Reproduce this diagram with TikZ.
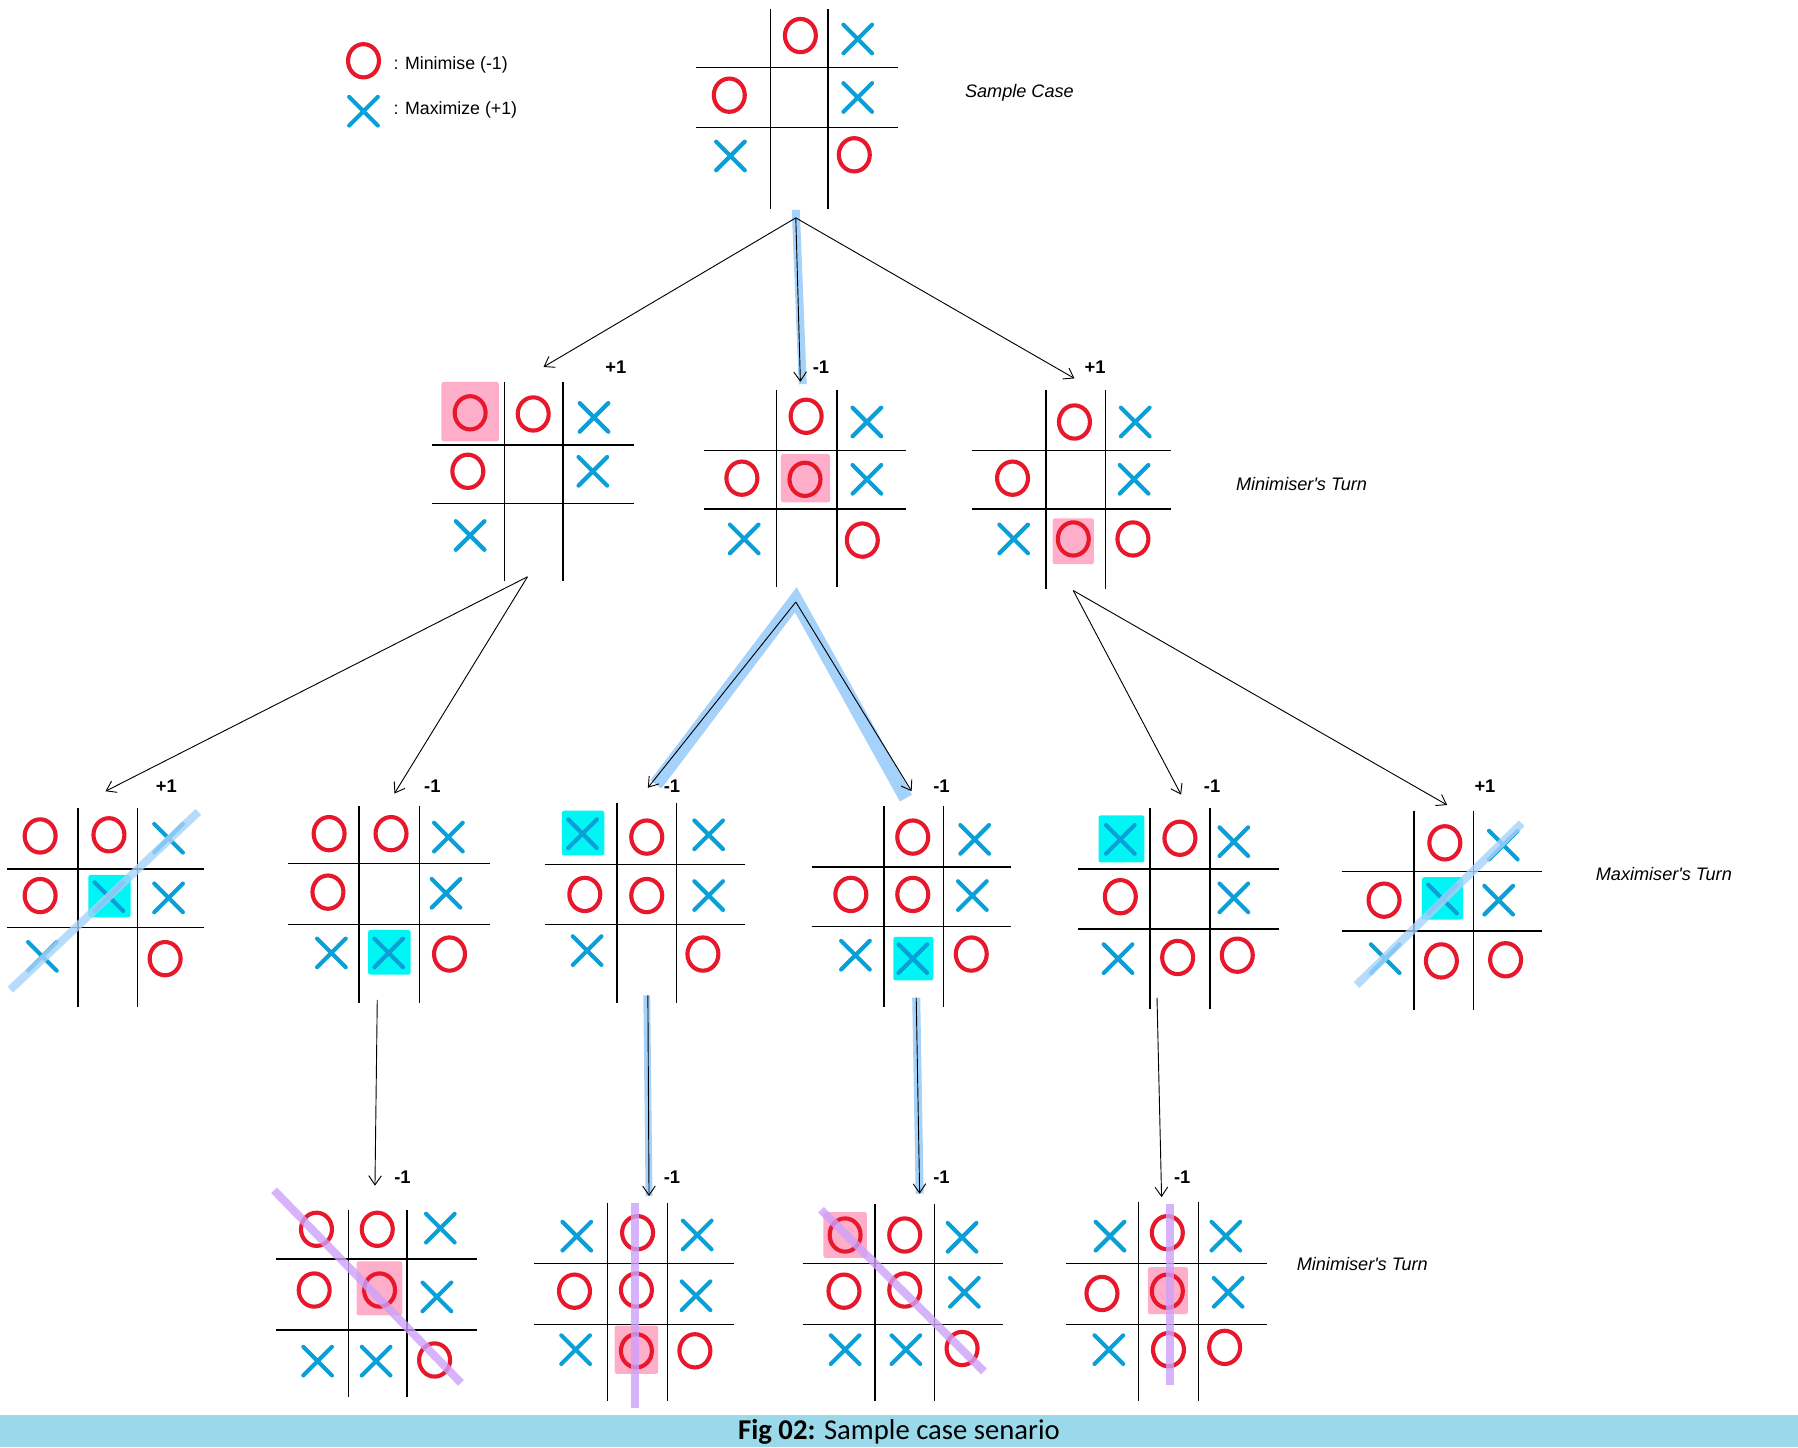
\documentclass[tikz,border=0pt]{standalone}
\usepackage{fontspec}
\setmainfont{Liberation Sans}
\newfontfamily\turnfont{Liberation Sans}[Ligatures=TeXOff]
\newfontfamily\capfont{Carlito}
\usetikzlibrary{arrows.meta}
\definecolor{ored}{RGB}{232,24,44}
\definecolor{xblue}{RGB}{10,160,215}
\definecolor{hpink}{RGB}{255,174,201}
\definecolor{hcyan}{RGB}{0,245,245}
\definecolor{bandblue}{RGB}{165,210,250}
\definecolor{wpurple}{RGB}{205,160,250}
\definecolor{capbg}{RGB}{153,217,234}
\tikzset{
 gridline/.style={line width=1.3pt, black},
 omark/.style={draw=ored, line width=3.6pt},
 xmark/.style={draw=xblue, line width=3.6pt, line cap=round},
 conn/.style={line width=0.8pt, -{Straight Barb[length=8pt,width=11pt]}},
 bandline/.style={bandblue, line width=#1},
 winline/.style={line width=#1, opacity=0.8},
 score/.style={font=\bfseries\fontsize{16}{16}\selectfont, inner sep=0pt},
 turn/.style={font=\turnfont\itshape\fontsize{15.8}{16}\selectfont, inner sep=0pt},
 legend/.style={font=\fontsize{15.5}{16}\selectfont, inner sep=0pt, anchor=west},
}
\newcommand\pO[2]{\draw[omark] (#1,#2) ellipse [x radius=13.5, y radius=14.5];}
\newcommand\pX[2]{\draw[xmark] (#1-12.5,#2-12.5) -- (#1+12.5,#2+12.5) (#1-12.5,#2+12.5) -- (#1+12.5,#2-12.5);}
\newcommand\hlbox[5]{\fill[#1, rounded corners=2pt] (#2,#3) rectangle (#4,#5);}
\newcommand\tttgrid[8]{\draw[gridline] (#1,#7) -- (#1,#8) (#2,#7) -- (#2,#8) (#5,#3) -- (#6,#3) (#5,#4) -- (#6,#4);}
\begin{document}
\begin{tikzpicture}[x=1pt,y=-1pt]
\useasboundingbox (0,0) rectangle (1568,1262);
\fill[white] (0,0) rectangle (1568,1262);
% caption bar
\fill[capbg] (0,1234) rectangle (1568,1262);
\node[inner sep=0pt] (caption) at (784,1249) {\capfont\fontsize{25}{25}\selectfont\textbf{Fig 02:} Sample case senario};

% legend
\pO{317}{53}
\node[legend] (legO) at (343,57) {: Minimise (-1)};
\pX{317}{97}
\node[legend] (legX) at (343,96) {: Maximize (+1)};

% turn labels
\node[turn] (lblsample) at (889,81) {Sample Case};
\node[turn] (lblmin1) at (1135,422) {Minimiser's Turn};
\node[turn] (lblmax) at (1451,762) {Maximiser's Turn};
\node[turn] (lblmin2) at (1188,1102) {Minimiser's Turn};

% highlight bands behind arrows
\draw[bandline=7] (694,183) -- (700,335);
\draw[bandline=12, line join=miter] (572,684) -- (694,523) -- (790,696);
\draw[bandline=6] (564,868) -- (566,1043);
\draw[bandline=7] (799,870) -- (802,1041);

% ---------- Top board ----------
\tttgrid{672}{722}{59}{111}{607}{783}{8}{182}
\pO{698}{31} \pX{748}{34}
\pO{636}{83} \pX{748}{85}
\pX{637}{136} \pO{745}{135}

% ---------- Level 1 ----------
% B1
\hlbox{hpink}{385}{333}{435}{385}
\tttgrid{440}{491}{388}{439}{377}{553}{333}{507}
\pO{410}{360} \pO{465}{361} \pX{518}{364}
\pO{408}{411} \pX{517}{411}
\pX{410}{467}
\node[score] (sB1) at (537,320) {+1};
% B2
\hlbox{hpink}{681}{396}{724}{438}
\tttgrid{677}{730}{393}{444}{614}{790}{340}{512}
\pO{703}{363} \pX{756}{368}
\pO{647}{417} \pO{702}{418} \pX{756}{418}
\pX{649}{470} \pO{752}{471}
\node[score] (sB2) at (716,320) {-1};
% B3
\hlbox{hpink}{918}{452}{954}{492}
\tttgrid{912}{964}{393}{444}{848}{1021}{340}{514}
\pO{937}{368} \pX{990}{368}
\pO{883}{417} \pX{989}{418}
\pX{884}{470} \pO{936}{470} \pO{988}{470}
\node[score] (sB3) at (955,320) {+1};

% ---------- Level 2 ----------
% C1
\hlbox{hcyan}{77}{763}{114}{800}
\tttgrid{68}{120}{758}{809}{6}{178}{705}{878}
\pO{35}{729} \pO{95}{728} \pX{147}{731}
\pO{35}{781} \pX{95}{782} \pX{147}{783}
\pX{37}{834} \pO{144}{836}
\draw[winline=7, bandblue] (9,863) -- (173,708);
\node[score] (sC1) at (145,686) {+1};
% C2
\hlbox{hcyan}{321}{811}{358}{850}
\tttgrid{313}{366}{753}{806}{251}{427}{703}{875}
\pO{287}{727} \pO{341}{727} \pX{391}{730}
\pO{286}{778} \pX{389}{779}
\pX{289}{831} \pX{339}{831} \pO{392}{832}
\node[score] (sC2) at (377,686) {-1};
% C3
\hlbox{hcyan}{490}{707}{527}{746}
\tttgrid{538}{590}{754}{806}{475}{650}{700}{875}
\pX{508}{727} \pO{564}{730} \pX{618}{728}
\pO{510}{780} \pO{564}{781} \pX{618}{781}
\pX{512}{829} \pO{613}{832}
\node[score] (sC3) at (586,686) {-1};
% C4
\hlbox{hcyan}{779}{817}{814}{855}
\tttgrid{771}{823}{756}{808}{708}{882}{703}{878}
\pO{796}{730} \pX{850}{732}
\pO{742}{780} \pO{796}{780} \pX{848}{781}
\pX{746}{833} \pX{796}{836} \pO{847}{832}
\node[score] (sC4) at (821,686) {-1};
% C5
\hlbox{hcyan}{958}{711}{998}{752}
\tttgrid{1003}{1055}{758}{810}{940}{1115}{705}{880}
\pX{977}{732} \pO{1029}{731} \pX{1076}{734}
\pO{977}{782} \pX{1076}{783}
\pX{975}{836} \pO{1027}{835} \pO{1079}{833}
\node[score] (sC5) at (1057,686) {-1};
% C6
\hlbox{hcyan}{1240}{765}{1276}{802}
\tttgrid{1233}{1285}{760}{812}{1170}{1345}{707}{881}
\pO{1260}{735} \pX{1311}{737}
\pO{1207}{785} \pX{1258}{784} \pX{1307}{785}
\pX{1208}{836} \pO{1257}{838} \pO{1313}{837}
\draw[winline=7, bandblue] (1183,859) -- (1327,718);
\node[score] (sC6) at (1295,686) {+1};

% ---------- Level 3 ----------
% D1
\hlbox{hpink}{311}{1100}{351}{1147}
\tttgrid{304}{355}{1098}{1160}{241}{416}{1055}{1218}
\pO{276}{1072} \pO{329}{1072} \pX{384}{1071}
\pO{274}{1125} \pO{331}{1125} \pX{381}{1131}
\pX{277}{1187} \pX{328}{1187} \pO{379}{1186}
\draw[winline=7, wpurple] (239,1038) -- (402,1206);
\node[score] (sD1) at (351,1027) {-1};
% D2
\hlbox{hpink}{536}{1156}{574}{1198}
\tttgrid{530}{582}{1102}{1155}{466}{640}{1049}{1222}
\pX{503}{1078} \pO{556}{1075} \pX{608}{1077}
\pO{501}{1126} \pO{555}{1125} \pX{607}{1130}
\pX{502}{1177} \pO{555}{1178} \pO{606}{1178}
\draw[winline=7, wpurple] (554,1049) -- (554,1228);
\node[score] (sD2) at (586,1027) {-1};
% D3
\hlbox{hpink}{718}{1057}{756}{1097}
\tttgrid{763}{815}{1102}{1155}{700}{875}{1050}{1222}
\pO{737}{1077} \pO{789}{1077} \pX{839}{1079}
\pO{736}{1126} \pO{789}{1125} \pX{841}{1127}
\pX{737}{1177} \pX{790}{1177} \pO{839}{1176}
\draw[winline=7, wpurple] (716,1055) -- (858,1196);
\node[score] (sD3) at (821,1027) {-1};
% D4
\hlbox{hpink}{1001}{1105}{1036}{1146}
\tttgrid{993}{1045}{1102}{1155}{930}{1105}{1048}{1222}
\pX{968}{1078} \pO{1018}{1075} \pX{1069}{1078}
\pO{961}{1128} \pO{1018}{1126} \pX{1071}{1127}
\pX{967}{1177} \pO{1019}{1177} \pO{1068}{1175}
\draw[winline=7, wpurple] (1020,1050) -- (1020,1208);
\node[score] (sD4) at (1031,1027) {-1};

% ---------- connector coordinates ----------
\coordinate (T-out) at (694,190);
\coordinate (B1-in) at (474,320);
\coordinate (B2-in) at (698,333);
\coordinate (B3-in) at (937,330);
\coordinate (B1-out) at (460,503);
\coordinate (B2-out) at (694,525);
\coordinate (B3-out) at (936,515);
\coordinate (C1-in) at (92,690);
\coordinate (C2-in) at (344,692);
\coordinate (C3-in) at (565,687);
\coordinate (C4-in) at (795,690);
\coordinate (C5-in) at (1030,693);
\coordinate (C6-in) at (1262,702);
\coordinate (C2-out) at (329,872);
\coordinate (C3-out) at (565,868);
\coordinate (C4-out) at (799,870);
\coordinate (C5-out) at (1009,870);
\coordinate (D1-in) at (327,1034);
\coordinate (D2-in) at (566,1043);
\coordinate (D3-in) at (802,1041);
\coordinate (D4-in) at (1013,1044);

\draw[conn] (T-out) -- (B1-in);
\draw[conn] (T-out) -- (B2-in);
\draw[conn] (T-out) -- (B3-in);
\draw[conn] (B1-out) -- (C1-in);
\draw[conn] (B1-out) -- (C2-in);
\draw[conn] (B2-out) -- (C3-in);
\draw[conn] (B2-out) -- (C4-in);
\draw[conn] (B3-out) -- (C5-in);
\draw[conn] (B3-out) -- (C6-in);
\draw[conn] (C2-out) -- (D1-in);
\draw[conn] (C3-out) -- (D2-in);
\draw[conn] (C4-out) -- (D3-in);
\draw[conn] (C5-out) -- (D4-in);
\end{tikzpicture}
\end{document}
